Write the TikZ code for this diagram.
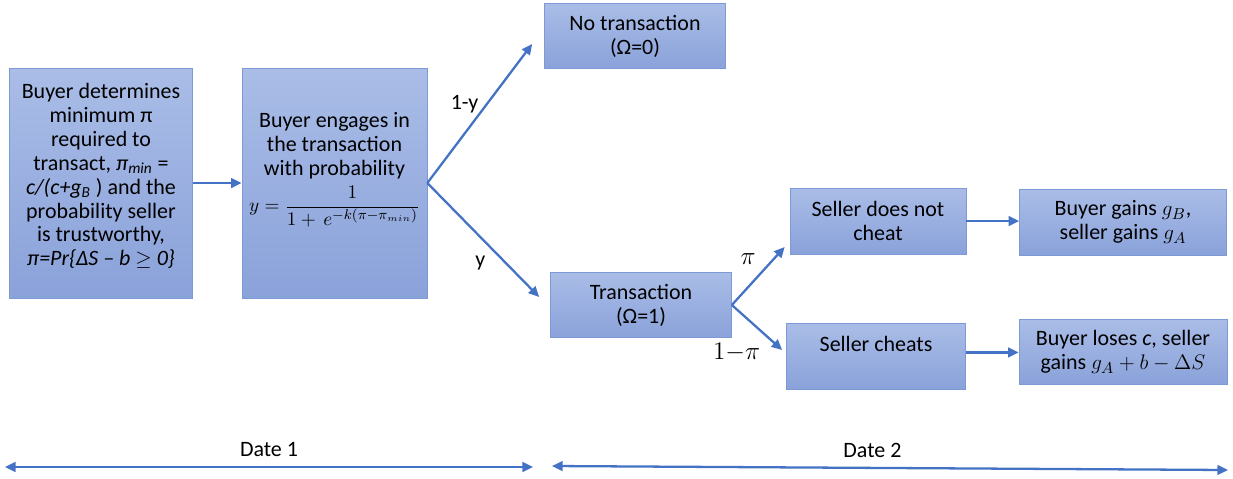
\documentclass[tikz,border=0pt]{standalone}
\usepackage{fontspec}
\setmainfont{Carlito}
\usetikzlibrary{arrows.meta}
\definecolor{boxtop}{HTML}{AABDE7}
\definecolor{boxbot}{HTML}{8AA2DA}
\definecolor{boxline}{HTML}{7E9AD6}
\definecolor{arrblue}{HTML}{4472C4}

\begin{document}
\begin{tikzpicture}[x=0.02cm,y=0.02cm,>={Triangle[length=6pt,width=5.5pt]},
			stagebox/.style={draw=boxline,top color=boxtop,bottom color=boxbot,align=center,inner sep=2pt,font=\fontsize{12.5}{13.6}\selectfont},
			flow/.style={->,color=arrblue,line width=1.3pt},
			problabel/.style={text=black,font=\fontsize{12.5}{13.6}\selectfont}]
			\useasboundingbox (0,0) rectangle (1233,478);
			\node[stagebox,minimum width=3.66cm,minimum height=4.6cm](b1) at (101,295){Buyer determines\\minimum π\\required to\\transact, \textit{π\textsubscript{min}} =\\\textit{c/(c+g\textsubscript{B}} ) and the\\probability seller\\is trustworthy,\\\textit{π=Pr\{ΔS – b }$\geq$\textit{ 0\}}\\[-4pt]\mbox{}};
			\node[stagebox,minimum width=3.7cm,minimum height=4.6cm](b2) at (334.5,295){Buyer engages in\\the transaction\\with probability\\[3pt]{\fontsize{11}{13}\selectfont$y=\displaystyle\frac{1}{1+\,e^{-k(\pi-\pi_{min})}}$}\\[0.35cm]\mbox{}};
			\node[stagebox,minimum width=3.62cm,minimum height=1.3cm](nt) at (635,442){No transaction\\(Ω=0)};
			\node[stagebox,minimum width=3.62cm,minimum height=1.3cm](tr) at (641,173){Transaction\\(Ω=1)};
			\node[stagebox,minimum width=3.52cm,minimum height=1.32cm](snc) at (878,257){Seller does not\\cheat};
			\node[stagebox,minimum width=3.58cm,minimum height=1.32cm](sc) at (876,122){Seller cheats\\\mbox{}};
			\node[stagebox,minimum width=4.14cm,minimum height=1.32cm](bg) at (1123,256){Buyer gains $g_B$,\\seller gains $g_A$};
			\node[stagebox,minimum width=4.16cm,minimum height=1.3cm](bl) at (1123,126){Buyer loses \textit{c}, seller\\gains $g_A+b-\Delta S$};
			\draw[flow](b1)--(b2);
			\draw[flow](b2.east)--([shift={(-12,-8)}]nt.west) node[problabel,pos=.57,left=1pt]{1-y};
			\draw[flow](b2.east)--([shift={(-11,8)}]tr.west) node[problabel,pos=.58,below left]{y};
			\draw[flow](tr.east)--([shift={(-5,-26)}]snc.west) node[problabel,pos=.58,above left,font=\Large]{$\pi$};
			\draw[flow](tr.east)--([shift={(-4,6)}]sc.west) node[problabel,pos=.7,below left,font=\Large]{$1{-}\pi$};
			\draw[flow](snc.east)--(snc.east-|bg.west);
			\draw[flow]([yshift=2]sc.east)--([yshift=2]sc.east-|bl.west);
			\coordinate (d1a) at (5,11);
			\coordinate (d1b) at (533,11);
			\coordinate (d2a) at (552,12);
			\coordinate (d2b) at (1228,8);
			\draw[flow,<->](d1a)--(d1b) node[problabel,midway,above=2pt]{Date 1};
			\draw[flow,<->](d2a)--(d2b) node[problabel,midway,above=2pt,xshift=-10]{Date 2};
			\end{tikzpicture}
\end{document}
